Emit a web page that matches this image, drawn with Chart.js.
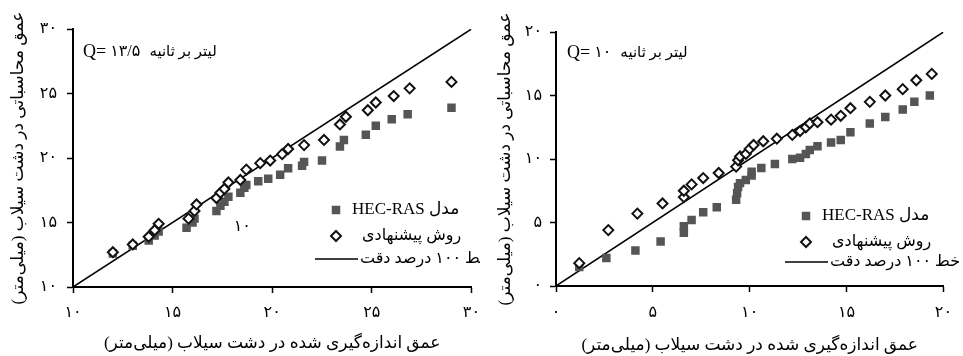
<!DOCTYPE html>
<html lang="fa">
<head>
<meta charset="utf-8">
<script src="https://cdn.jsdelivr.net/npm/chart.js@4.4.0/dist/chart.umd.min.js"></script>
<style>
  html, body { margin: 0; padding: 0; background: #fff; }
  body { width: 963px; height: 356px; position: relative; overflow: hidden; }
  .panel { position: absolute; top: 0; height: 356px; overflow: hidden; }
  #leftPanel { left: 0; width: 480px; }
  #rightPanel { left: 480px; width: 483px; }
  canvas { direction: rtl; display: block; }
</style>
</head>
<body>
<div class="panel" id="leftPanel"><canvas id="leftChart" width="490" height="356"></canvas></div>
<div class="panel" id="rightPanel"><canvas id="rightChart" width="483" height="356"></canvas></div>
<script>
'use strict';

const FONT = '"Liberation Serif", "DejaVu Sans", serif';

// texts
const hecLabel = 'مدل HEC-RAS';
const propLabel = 'روش پیشنهادی';
const lineLabel = 'خط ۱۰۰ درصد دقت';
const xTitle = 'عمق اندازه‌گیری شده در دشت سیلاب (میلی‌متر)';
const yTitle = 'عمق محاسباتی در دشت سیلاب (میلی‌متر)';
const flowUnit = 'لیتر بر ثانیه';

// left chart, Q = 13.5 l/s
const leftFlow = '۱۳/۵';
const leftTicks = [10, 15, 20, 25, 30];
const leftTickLabels = ['۱۰', '۱۵', '۲۰', '۲۵', '۳۰'];
const leftLine = [10, 30];
const leftHecX = [12.0, 13.0, 13.8, 14.1, 14.3, 15.7, 16.0, 16.1, 17.2, 17.4, 17.6, 17.8, 18.4, 18.6, 18.7, 19.3, 19.8, 20.4, 20.8, 21.5, 21.6, 22.5, 23.4, 23.6, 24.7, 25.2, 26.0, 26.8, 29.0];
const leftHecY = [12.6, 13.2, 13.6, 14.0, 14.3, 14.6, 15.0, 15.3, 15.9, 16.3, 16.6, 17.0, 17.3, 17.7, 17.9, 18.2, 18.4, 18.7, 19.2, 19.4, 19.7, 19.8, 20.9, 21.4, 21.8, 22.5, 23.0, 23.4, 23.9];
const leftPropX = [12.0, 13.0, 13.8, 14.1, 14.3, 15.8, 16.1, 16.2, 17.2, 17.4, 17.6, 17.8, 18.4, 18.7, 19.4, 19.9, 20.5, 20.8, 21.6, 22.6, 23.4, 23.7, 24.8, 25.2, 26.1, 26.9, 29.0];
const leftPropY = [12.7, 13.3, 13.9, 14.4, 14.9, 15.3, 15.9, 16.4, 16.9, 17.3, 17.6, 18.1, 18.3, 19.1, 19.6, 19.8, 20.3, 20.7, 21.0, 21.4, 22.6, 23.2, 23.7, 24.3, 24.8, 25.4, 25.9];
const leftStray = { text: '۱۰', x: 18.5, y: 14.7 };

// right chart, Q = 10 l/s
const rightFlow = '۱۰';
const rightTicks = [0, 5, 10, 15, 20];
const rightTickLabels = ['۰', '۵', '۱۰', '۱۵', '۲۰'];
const rightLine = [0, 20];
const rightHecX = [1.2, 2.6, 4.1, 5.4, 6.6, 6.6, 7.0, 7.6, 8.3, 9.3, 9.35, 9.4, 9.5, 9.8, 10.1, 10.1, 10.6, 11.3, 12.2, 12.6, 12.9, 13.1, 13.5, 14.2, 14.7, 15.2, 16.2, 17.0, 17.9, 18.5, 19.3];
const rightHecY = [1.5, 2.2, 2.8, 3.5, 4.2, 4.7, 5.2, 5.8, 6.2, 6.8, 7.3, 7.8, 8.1, 8.35, 8.7, 9.0, 9.3, 9.6, 10.0, 10.1, 10.4, 10.7, 11.0, 11.3, 11.5, 12.1, 12.8, 13.3, 13.9, 14.5, 15.0];
const rightPropX = [1.2, 2.7, 4.2, 5.5, 6.6, 6.6, 7.0, 7.6, 8.4, 9.3, 9.4, 9.5, 9.8, 10.0, 10.2, 10.7, 11.4, 12.2, 12.6, 12.9, 13.1, 13.5, 14.2, 14.7, 15.2, 16.2, 17.0, 17.9, 18.6, 19.4];
const rightPropY = [1.8, 4.4, 5.7, 6.5, 7.0, 7.5, 8.0, 8.5, 8.9, 9.4, 9.9, 10.2, 10.4, 10.8, 11.1, 11.4, 11.6, 11.9, 12.2, 12.5, 12.8, 12.9, 13.1, 13.4, 14.0, 14.5, 15.0, 15.5, 16.2, 16.7];

const pts = (xs, ys) => xs.map((x, i) => ({ x: x, y: ys[i] }));

// annotations + legend inside the plot
const extras = {
  id: 'extras',
  afterDraw(chart, args, o) {
    const { ctx, chartArea: ca } = chart;
    const helpers = Chart.helpers;
    ctx.save();
    ctx.fillStyle = '#000';
    ctx.textBaseline = 'middle';

    // Q= ... label
    ctx.direction = 'ltr';
    ctx.textAlign = 'left';
    ctx.font = '18px ' + FONT;
    let x = ca.left + o.qX;
    const qy = ca.top + o.qY;
    ctx.fillText('Q=', x, qy);
    x += ctx.measureText('Q=').width + 4;
    ctx.font = '16px ' + FONT;
    ctx.fillText(o.flow, x, qy);
    x += ctx.measureText(o.flow).width + 9;
    ctx.direction = 'rtl';
    ctx.textAlign = 'left';
    ctx.font = '15px ' + FONT;
    ctx.fillText(flowUnit, x, qy);

    if (o.stray) {
      ctx.direction = 'ltr';
      ctx.textAlign = 'center';
      ctx.font = '16px ' + FONT;
      ctx.fillText(o.stray.text, chart.scales.x.getPixelForValue(o.stray.x), chart.scales.y.getPixelForValue(o.stray.y));
    }

    // legend
    const mx = ca.left + o.legX;
    const rows = o.legY.map((d) => ca.bottom - d);
    ctx.fillStyle = '#555';
    helpers.drawPoint(ctx, { pointStyle: 'rect', radius: 6, borderWidth: 0 }, mx, rows[0]);
    ctx.fillStyle = '#fff';
    ctx.strokeStyle = '#111';
    ctx.lineWidth = 2;
    helpers.drawPoint(ctx, { pointStyle: 'rectRot', radius: 5, borderWidth: 2 }, mx, rows[1]);
    ctx.strokeStyle = '#000';
    ctx.lineWidth = 1.5;
    ctx.beginPath();
    ctx.moveTo(mx - 21, rows[2]);
    ctx.lineTo(mx + 22, rows[2]);
    ctx.stroke();

    ctx.fillStyle = '#000';
    ctx.direction = 'rtl';
    ctx.textAlign = 'left';
    ctx.font = '17px ' + FONT;
    ctx.fillText(hecLabel, mx + 16, rows[0]);
    ctx.font = '16px ' + FONT;
    ctx.fillText(propLabel, mx + 26, rows[1]);
    ctx.fillText(lineLabel, mx + 24, rows[2]);
    ctx.restore();
  }
};

function makeChart(id, s) {
  const tickFont = { family: FONT, size: 16 };
  const titleFont = { family: FONT, size: 17 };
  const grid = { display: true, drawOnChartArea: false, drawTicks: true, tickLength: 6, color: '#000', tickWidth: 1.5 };
  const border = { display: true, color: '#000', width: 2 };
  return new Chart(document.getElementById(id), {
    type: 'scatter',
    data: {
      datasets: [
        {
          label: propLabel,
          data: pts(s.propX, s.propY),
          pointStyle: 'rectRot',
          pointRadius: 5,
          borderWidth: 2,
          borderColor: '#111',
          backgroundColor: '#fff',
        },
        {
          label: hecLabel,
          data: pts(s.hecX, s.hecY),
          pointStyle: 'rect',
          pointRadius: 6,
          borderWidth: 0,
          borderColor: '#555',
          backgroundColor: '#555',
        },
        {
          type: 'line',
          label: lineLabel,
          data: pts(s.line, s.line),
          borderColor: '#000',
          borderWidth: 1.5,
          pointRadius: 0,
          fill: false,
        },
      ],
    },
    options: {
      responsive: false,
      animation: false,
      events: [],
      layout: { padding: { top: s.top, right: s.right, left: 0, bottom: 0 } },
      scales: {
        x: {
          type: 'linear',
          min: s.ticks[0],
          max: s.ticks[s.ticks.length - 1],
          afterBuildTicks: (sc) => { sc.ticks = s.ticks.map((v) => ({ value: v })); },
          afterFit: (sc) => { sc.height = s.xAxisH; },
          ticks: {
            font: tickFont,
            color: '#000',
            padding: s.xPad,
            maxRotation: 0,
            callback: (v, i) => s.labels[i],
          },
          grid: grid,
          border: border,
          title: { display: true, text: xTitle, font: titleFont, color: '#000', padding: { top: 0, bottom: s.xTitlePad } },
        },
        y: {
          type: 'linear',
          min: s.ticks[0],
          max: s.ticks[s.ticks.length - 1],
          afterBuildTicks: (sc) => { sc.ticks = s.ticks.map((v) => ({ value: v })); },
          afterFit: (sc) => { sc.width = s.yAxisW; },
          ticks: {
            font: tickFont,
            color: '#000',
            padding: s.yPad,
            callback: (v, i) => s.labels[i],
          },
          grid: grid,
          border: border,
          title: { display: true, text: yTitle, font: titleFont, color: '#000', padding: { top: s.yTitlePad, bottom: 0 } },
        },
      },
      plugins: {
        legend: { display: false },
        tooltip: { enabled: false },
        extras: s.extras,
      },
    },
    plugins: [extras],
  });
}

makeChart('leftChart', {
  ticks: leftTicks, labels: leftTickLabels, line: leftLine,
  hecX: leftHecX, hecY: leftHecY, propX: leftPropX, propY: leftPropY,
  top: 29, right: 16, xAxisH: 69, yAxisW: 73, xPad: 10, yPad: 10, xTitlePad: 2, yTitlePad: 8,
  extras: { flow: leftFlow, qX: 10, qY: 23, stray: leftStray, legX: 263, legY: [77, 51, 28] },
});

makeChart('rightChart', {
  ticks: rightTicks, labels: rightTickLabels, line: rightLine,
  hecX: rightHecX, hecY: rightHecY, propX: rightPropX, propY: rightPropY,
  top: 32, right: 10, xAxisH: 70, yAxisW: 76, xPad: 11, yPad: 8, xTitlePad: 0, yTitlePad: 15,
  extras: { flow: rightFlow, qX: 11, qY: 21, stray: null, legX: 250, legY: [70, 44, 24] },
});
</script>
</body>
</html>
